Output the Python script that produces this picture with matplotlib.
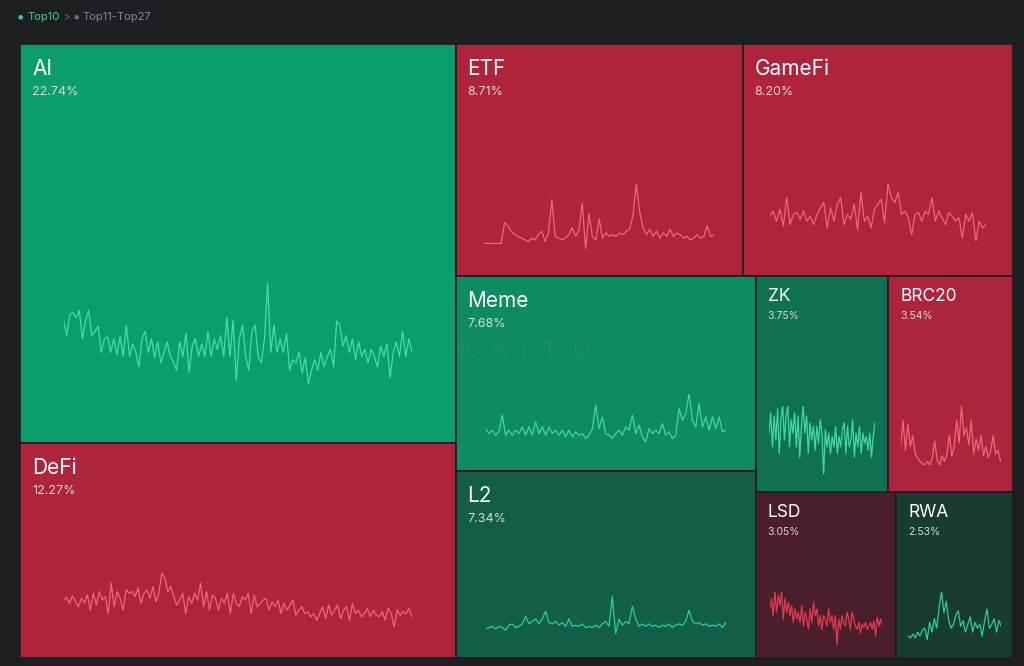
import matplotlib
matplotlib.use("Agg")
import matplotlib.pyplot as plt
from matplotlib.patches import Rectangle

# mindshare of the top 10 narratives (%), read from the tiles
names = ["AI", "DeFi", "ETF", "GameFi", "Meme", "L2", "ZK", "BRC20", "LSD", "RWA"]
shares = [22.74, 12.27, 8.71, 8.20, 7.68, 7.34, 3.75, 3.54, 3.05, 2.53]

# sparkline values (relative index)
ai_trend = [68, 53, 73, 75, 70, 77, 50, 67, 77, 53, 57, 62, 37, 50, 52, 37, 50, 35, 52, 33,
            63, 33, 45, 37, 23, 50, 57, 37, 50, 32, 47, 27, 37, 47, 33, 28, 20, 47, 33, 55,
            18, 43, 50, 33, 45, 33, 57, 33, 50, 40, 53, 33, 70, 33, 68, 10, 50, 63, 33, 20,
            57, 63, 33, 27, 50, 103, 37, 63, 37, 50, 37, 55, 20, 30, 27, 37, 17, 32, 7, 20,
            30, 20, 37, 23, 33, 40, 23, 67, 63, 43, 53, 37, 50, 30, 47, 33, 40, 27, 40, 33,
            23, 43, 33, 45, 13, 37, 47, 33, 57, 33, 50, 37]
defi_trend = [90, 98, 80, 102, 85, 70, 95, 82, 105, 60, 110, 75, 115, 90, 100, 50, 140, 70, 115, 95,
              60, 120, 110, 115, 100, 125, 80, 110, 120, 95, 130, 85, 110, 170, 155, 115, 130, 100, 75, 90,
              110, 50, 100, 80, 110, 90, 140, 70, 115, 60, 105, 95, 60, 95, 80, 110, 50, 110, 80, 70,
              100, 90, 110, 50, 105, 70, 80, 90, 95, 60, 85, 70, 90, 50, 80, 60, 75, 90, 45, 60,
              70, 50, 55, 40, 50, 30, 50, 70, 35, 75, 45, 60, 75, 35, 60, 70, 30, 80, 50, 60,
              40, 50, 65, 40, 60, 45, 40, 55, 30, 65, 50, 10, 60, 45, 55, 50, 65, 40]
etf_trend = [5, 5, 5, 5, 5, 5, 65, 55, 40, 30, 25, 20, 15, 10, 20, 15, 30, 40, 10, 35,
             130, 25, 20, 15, 20, 30, 50, 25, 40, 120, -10, 90, 25, 15, 75, 20, 35, 25, 30, 25,
             35, 30, 40, 45, 85, 175, 95, 50, 30, 45, 25, 40, 20, 35, 25, 45, 25, 35, 30, 20,
             25, 15, 20, 30, 20, 25, 55, 25, 30]
gamefi_trend = [80, 95, 65, 100, 50, 135, 55, 85, 90, 70, 95, 65, 80, 55, 85, 105, 120, 45, 105, 65,
                115, 135, 55, 85, 70, 115, 40, 150, 65, 80, 45, 100, 115, 130, 60, 175, 135, 120, 150, 85,
                95, 75, 25, 85, 90, 65, 95, 85, 135, 65, 95, 75, 55, 90, 80, 65, 75, 15, 85, 65,
                90, 5, 65, 45, 55]
meme_trend = [45, 30, 40, 25, 35, 85, 25, 40, 25, 40, 30, 50, 25, 50, 25, 65, 30, 50, 25, 50,
              30, 40, 25, 40, 20, 40, 20, 35, 25, 30, 15, 25, 45, 115, 45, 80, 30, 25, 15, 30,
              40, 25, 50, 40, 85, 30, 55, 20, 5, 45, 30, 40, 30, 60, 25, 35, 15, 25, 105, 70,
              90, 150, 70, 50, 120, 50, 80, 40, 80, 45, 80, 35, 40]
l2_trend = [30, 35, 40, 30, 40, 35, 25, 45, 50, 35, 40, 50, 80, 50, 60, 70, 50, 70, 100, 55,
            50, 60, 45, 55, 40, 70, 40, 45, 40, 50, 35, 40, 35, 45, 35, 50, 60, 40, 160, 10,
            70, 45, 60, 50, 120, 70, 40, 50, 40, 50, 40, 45, 35, 45, 40, 50, 35, 45, 50, 45,
            60, 105, 60, 50, 55, 45, 50, 40, 45, 40, 50, 35, 55]
zk_trend = [13, 19, 9, 18, 11, 20, 7, 17, 21, 11, 18, 21, 9, 17, 13, 19, 9, 18, 6, 15,
            21, 13, 18, 7, 16, 11, 15, 8, 15, 10, 17, 13, 1, 14, 9, 13, 7, 12, 9, 15,
            7, 12, 9, 14, 16, 7, 15, 9, 11, 17, 6, 13, 9, 15, 7, 13, 10, 12, 8, 13,
            6, 12, 16]
brc20_trend = [14, 28, 12, 26, 14, 20, 10, 8, 6, 5, 4, 6, 4, 8, 17, 7, 4, 9, 6, 10,
               20, 9, 14, 28, 16, 36, 20, 24, 15, 28, 10, 18, 12, 20, 9, 14, 8, 12, 20, 10,
               12, 6]
lsd_trend = [22, 28, 18, 32, 20, 30, 24, 32, 16, 28, 20, 26, 18, 24, 14, 22, 16, 20, 14, 24,
             12, 20, 16, 10, 22, 14, 26, 18, 22, 12, 18, 10, 18, 16, 12, 22, 14, 18, 10, 18,
             1, 16, 10, 18, 14, 12, 20, 16, 10, 20, 16, 12, 10, 14, 8, 13, 11, 14, 10, 12,
             14, 10, 15, 6, 17, 12, 16, 12]
rwa_trend = [4, 3, 5, 3, 6, 4, 7, 8, 2, 11, 6, 13, 8, 19, 27, 16, 22, 12, 8, 10,
             15, 17, 9, 12, 6, 10, 14, 6, 11, 8, 10, 4, 12, 18, 8, 10, 13, 6, 12, 9]

trends = [ai_trend, defi_trend, etf_trend, gamefi_trend, meme_trend,
          l2_trend, zk_trend, brc20_trend, lsd_trend, rwa_trend]

# tile colours (by strength of move) and sparkline colours
tile_colors = ["#0b9e6b", "#ad243b", "#ad243b", "#ad243b", "#0d8c62",
               "#125e48", "#0f7052", "#ad253c", "#4a1f2b", "#183b33"]
line_colors = ["#45dda4", "#f26674", "#f26674", "#f26674", "#3fd99e",
               "#2fcf91", "#40d89f", "#f26674", "#e23a52", "#2ecf8f"]
# vertical band of each sparkline, as fractions of the tile height (bottom, top)
spark_band = [(0.148, 0.40), (0.144, 0.395), (0.117, 0.396), (0.148, 0.396), (0.15, 0.397),
              (0.129, 0.33), (0.083, 0.40), (0.125, 0.40), (0.08, 0.40), (0.11, 0.40)]
bg = "#1e1f23"


def worst(row, side):
    s = sum(row)
    return max(max(side * side * r / (s * s), s * s / (side * side * r)) for r in row)


def squarify(values, x, y, w, h):
    # classic squarified treemap, y measured downward from the top
    total = sum(values)
    vals = [v * w * h / total for v in values]
    rects = []
    while vals:
        side = min(w, h)
        row = [vals[0]]
        i = 1
        while i < len(vals) and worst(row + [vals[i]], side) <= worst(row, side):
            row.append(vals[i])
            i += 1
        s = sum(row)
        if w >= h:
            cw = s / h
            yy = y
            for v in row:
                rects.append((x, yy, cw, v / cw))
                yy += v / cw
            x += cw
            w -= cw
        else:
            rh = s / w
            xx = x
            for v in row:
                rects.append((xx, y, v / rh, rh))
                xx += v / rh
            y += rh
            h -= rh
        vals = vals[i:]
    return rects


W, H = 993, 614
fig = plt.figure(figsize=(10.24, 6.66), dpi=100)
fig.patch.set_facecolor(bg)
ax = fig.add_axes([20 / 1024, 8 / 666, W / 1024, H / 666])
ax.set_xlim(0, W)
ax.set_ylim(0, H)
ax.axis("off")

rects = squarify(shares, 0, 0, W, H)
for name, share, trend, (x, y, w, h), fc, lc, band in zip(names, shares, trends, rects,
                                                         tile_colors, line_colors, spark_band):
    yb = H - y - h
    ax.add_patch(Rectangle((x, yb), w, h, facecolor=fc, edgecolor=bg, linewidth=1.3))
    small = w < 200
    pad = 12
    ax.text(x + pad, yb + h - (12 if small else 15), name, color="white",
            fontsize=12.5 if small else 15, family="Inter", va="top", ha="left")
    ax.text(x + pad, yb + h - (35 if small else 42), f"{share:.2f}%", color="#e6e6e6",
            fontsize=7.5 if small else 9, family="Inter", va="top", ha="left", alpha=0.9)
    spark = ax.inset_axes([x + 0.1 * w, yb + band[0] * h, 0.8 * w, (band[1] - band[0]) * h],
                          transform=ax.transData)
    spark.plot(range(len(trend)), trend, color=lc, linewidth=0.9)
    spark.set_xlim(0, len(trend) - 1)
    spark.set_ylim(min(trend), max(trend))
    spark.axis("off")

# faint watermark
fig.text(525 / 1024, 1 - 352 / 666, "K  A  I  T  O", color="white", alpha=0.035,
         fontsize=18, family="Inter", ha="center", va="center")

# breadcrumb
fig.text(18 / 1024, 1 - 17 / 666, "\u25cf", color="#3ccf91", fontsize=4.5, va="center")
fig.text(27 / 1024, 1 - 17 / 666, "Top10", color="#3ccf91", fontsize=8, family="Inter", va="center")
fig.text(64 / 1024, 1 - 17 / 666, ">", color="#6b6e74", fontsize=7, family="Inter", va="center")
fig.text(74 / 1024, 1 - 17 / 666, "\u25cf", color="#6b6e74", fontsize=4.5, va="center")
fig.text(82 / 1024, 1 - 17 / 666, "Top11-Top27", color="#85888e", fontsize=8, family="Inter", va="center")

fig.savefig("out.png", dpi=100, facecolor=bg)
